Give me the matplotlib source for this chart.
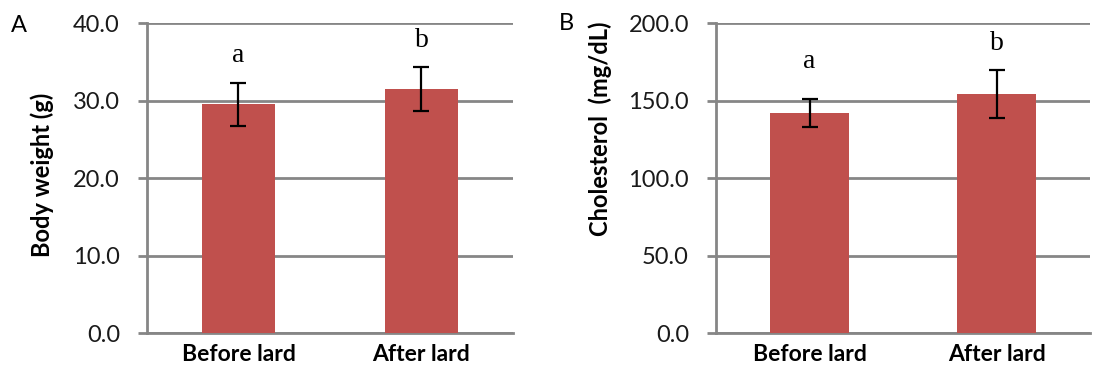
import matplotlib
matplotlib.use("Agg")
import matplotlib.pyplot as plt
import numpy as np

# data
groups = ["Before lard", "After lard"]
body_weight = [29.5, 31.5]
body_weight_err = [2.8, 2.8]
cholesterol = [142.0, 154.5]
cholesterol_err = [9.0, 15.5]
letters = ["a", "b"]

plt.rcParams['font.family'] = ['Lato', 'DejaVu Sans']

bar_color = "#C0504D"
grid_color = "#868686"

fig = plt.figure(figsize=(11.11, 3.71), dpi=100)
axA = fig.add_axes([0.1323, 0.1024, 0.3294, 0.8356])
axB = fig.add_axes([0.6445, 0.1024, 0.3366, 0.8356])


def panel(ax, vals, errs, ymax, step, ylabel, bw, letter_y, ylab_xy):
    x = np.arange(len(groups))
    ax.bar(x, vals, width=bw, color=bar_color, zorder=3)
    ax.errorbar(x, vals, yerr=errs, fmt="none", ecolor="black",
                elinewidth=1.6, capsize=6, capthick=1.6, zorder=4)
    ax.set_xlim(-0.5, len(groups) - 0.5)
    ax.set_ylim(0, ymax)
    ax.set_yticks(np.arange(0, ymax + step / 2, step))
    ax.set_yticklabels(["%.1f" % t for t in np.arange(0, ymax + step / 2, step)])
    ax.yaxis.grid(True, color=grid_color, lw=2, zorder=0)
    ax.set_axisbelow(True)
    for s in ["top", "right"]:
        ax.spines[s].set_visible(False)
    for s in ["left", "bottom"]:
        ax.spines[s].set_color(grid_color)
        ax.spines[s].set_linewidth(2)
    ax.tick_params(axis="y", length=6.5, width=2, color=grid_color,
                   labelsize=17, pad=13, labelcolor="#1a1a1a")
    ax.tick_params(axis="x", length=0, pad=8)
    ax.set_xticks(x)
    ax.set_xticklabels(groups, fontsize=16.5, fontweight="bold")
    ax.set_ylabel(ylabel, fontsize=17, fontweight="bold")
    ax.yaxis.set_label_coords(*ylab_xy)
    for xi, l, ly in zip(x, letters, letter_y):
        ax.text(xi, ly, l, ha="center", va="center", fontsize=20,
                family="Liberation Serif")


panel(axA, body_weight, body_weight_err, 40, 10, "Body weight (g)", 0.4,
      [35.8, 37.8], ((54 - 147) / 366, (333 - 175) / 310))
panel(axB, cholesterol, cholesterol_err, 200, 50, "Cholesterol  (mg/dL)", 0.42,
      [175, 187], ((612 - 716) / 374, (333 - 129) / 310))

fig.text(11 / 1111, 1 - 25 / 371, "A", fontsize=17, ha="left", va="center")
fig.text(559 / 1111, 1 - 23 / 371, "B", fontsize=17, ha="left", va="center")

fig.savefig("out.png", dpi=100)
